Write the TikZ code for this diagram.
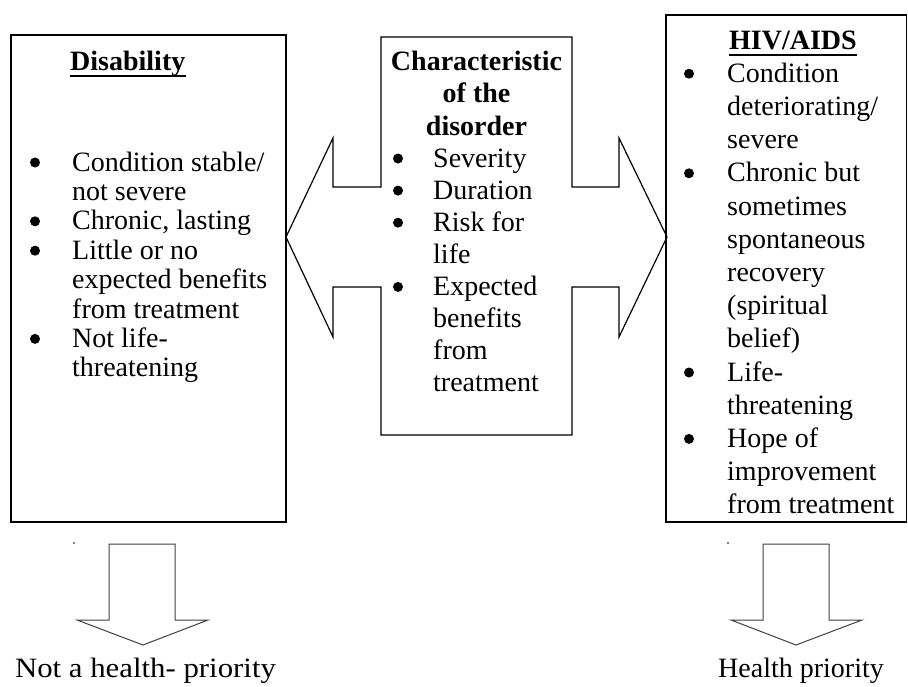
\documentclass[tikz,border=0pt]{standalone}
\usepackage{fontspec}
\setmainfont{Liberation Serif}
\usepackage{graphicx}
\begin{document}
\begin{tikzpicture}[x=1pt,y=-1pt,
  box/.style={draw, line width=1.3pt},
  xshape/.style={draw, line width=1.2pt, line join=miter},
  darrow/.style={draw=black!75, line width=1pt, line join=miter},
  txt/.style={inner sep=0pt, anchor=base west, font=\fontsize{28}{32}\selectfont},
  hdr/.style={inner sep=0pt, anchor=base, font=\fontsize{28}{32}\selectfont\bfseries},
  lbl/.style={inner sep=0pt, anchor=base, font=\fontsize{28}{32}\selectfont},
  bul/.style={circle, fill, inner sep=0pt, minimum size=10pt, yshift=8.5pt},
  uline/.style={line width=1.4pt}]
\useasboundingbox (0,0) rectangle (908,686);

% ---------- boxes ----------
\draw[box] (11,35) rectangle (286,522);
\draw[box] (666,15) rectangle (906.5,522);

% ---------- central cross with two arrows ----------
\draw[xshape] (381,37) -- (572,37) -- (572,187) -- (619,187) -- (619,138)
  -- (667,237) -- (619,337) -- (619,287) -- (572,287) -- (572,435)
  -- (381,435) -- (381,287) -- (333,287) -- (333,337) -- (286,237)
  -- (333,138) -- (333,187) -- (381,187) -- cycle;

% ---------- down arrows ----------
\draw[darrow] (109,544) -- (175,544) -- (175,620) -- (208,620) -- (143,645)
  -- (77,620) -- (109,620) -- cycle;
\draw[darrow] (763,544) -- (829,544) -- (829,620) -- (862,620) -- (796,645)
  -- (731,620) -- (763,620) -- cycle;
\fill (74,543) circle (0.9);
\fill (728,543) circle (0.9);

% ---------- left box text ----------
\node[hdr, anchor=base west] (dis) at (70,70) {Disability};
\draw[uline] ([yshift=-6pt]dis.base west) -- ([yshift=-6pt]dis.base east);
\node[bul] (lb1) at (35,171) {};
\node[txt] (l1) at (72,171) {Condition stable/};
\node[txt] (l2) at (72,200.4) {not severe};
\node[bul] (lb2) at (35,229.8) {};
\node[txt] (l3) at (72,229.8) {Chronic, lasting};
\node[bul] (lb3) at (35,259.2) {};
\node[txt] (l4) at (72,259.2) {Little or no};
\node[txt] (l5) at (72,288.6) {expected benefits};
\node[txt] (l6) at (72,318) {from treatment};
\node[bul] (lb4) at (35,347.4) {};
\node[txt] (l7) at (72,347.4) {Not life-};
\node[txt] (l8) at (72,376.8) {threatening};

% ---------- middle box text ----------
\node[hdr] (m1) at (476.5,70) {Characteristic};
\node[hdr] (m2) at (476.5,102.7) {of the};
\node[hdr] (m3) at (476.5,135) {disorder};
\node[bul] (mb1) at (398,167) {};
\node[txt] (c1) at (433,167) {Severity};
\node[bul] (mb2) at (398,199.1) {};
\node[txt] (c2) at (433,199.1) {Duration};
\node[bul] (mb3) at (398,231.2) {};
\node[txt] (c3) at (433,231.2) {Risk for};
\node[txt] (c4) at (433,263.3) {life};
\node[bul] (mb4) at (398,295.4) {};
\node[txt] (c5) at (433,295.4) {Expected};
\node[txt] (c6) at (433,327.5) {benefits};
\node[txt] (c7) at (433,359.6) {from};
\node[txt] (c8) at (433,391.7) {treatment};

% ---------- right box text ----------
\node[hdr] (hiv) at (793,49) {HIV/AIDS};
\draw[uline] ([yshift=-6pt]hiv.base west) -- ([yshift=-6pt]hiv.base east);
\node[bul] (rb1) at (689,82.2) {};
\node[txt] (r1) at (727,82.2) {Condition};
\node[txt] (r2) at (727,115.4) {deteriorating/};
\node[txt] (r3) at (727,148.6) {severe};
\node[bul] (rb2) at (689,181.8) {};
\node[txt] (r4) at (727,181.8) {Chronic but};
\node[txt] (r5) at (727,215) {sometimes};
\node[txt] (r6) at (727,248.2) {spontaneous};
\node[txt] (r7) at (727,281.4) {recovery};
\node[txt] (r8) at (727,314.6) {(spiritual};
\node[txt] (r9) at (727,347.8) {belief)};
\node[bul] (rb3) at (689,381) {};
\node[txt] (r10) at (727,381) {Life-};
\node[txt] (r11) at (727,414.2) {threatening};
\node[bul] (rb4) at (689,447.4) {};
\node[txt] (r12) at (727,447.4) {Hope of};
\node[txt] (r13) at (727,480.6) {improvement};
\node[txt] (r14) at (727,513.8) {from treatment};

% ---------- bottom labels ----------
\node[lbl] (np) at (145.5,677) {\scalebox{1.1}[1]{Not a health- priority}};
\node[lbl] (hp) at (801,677) {Health priority};
\end{tikzpicture}
\end{document}
